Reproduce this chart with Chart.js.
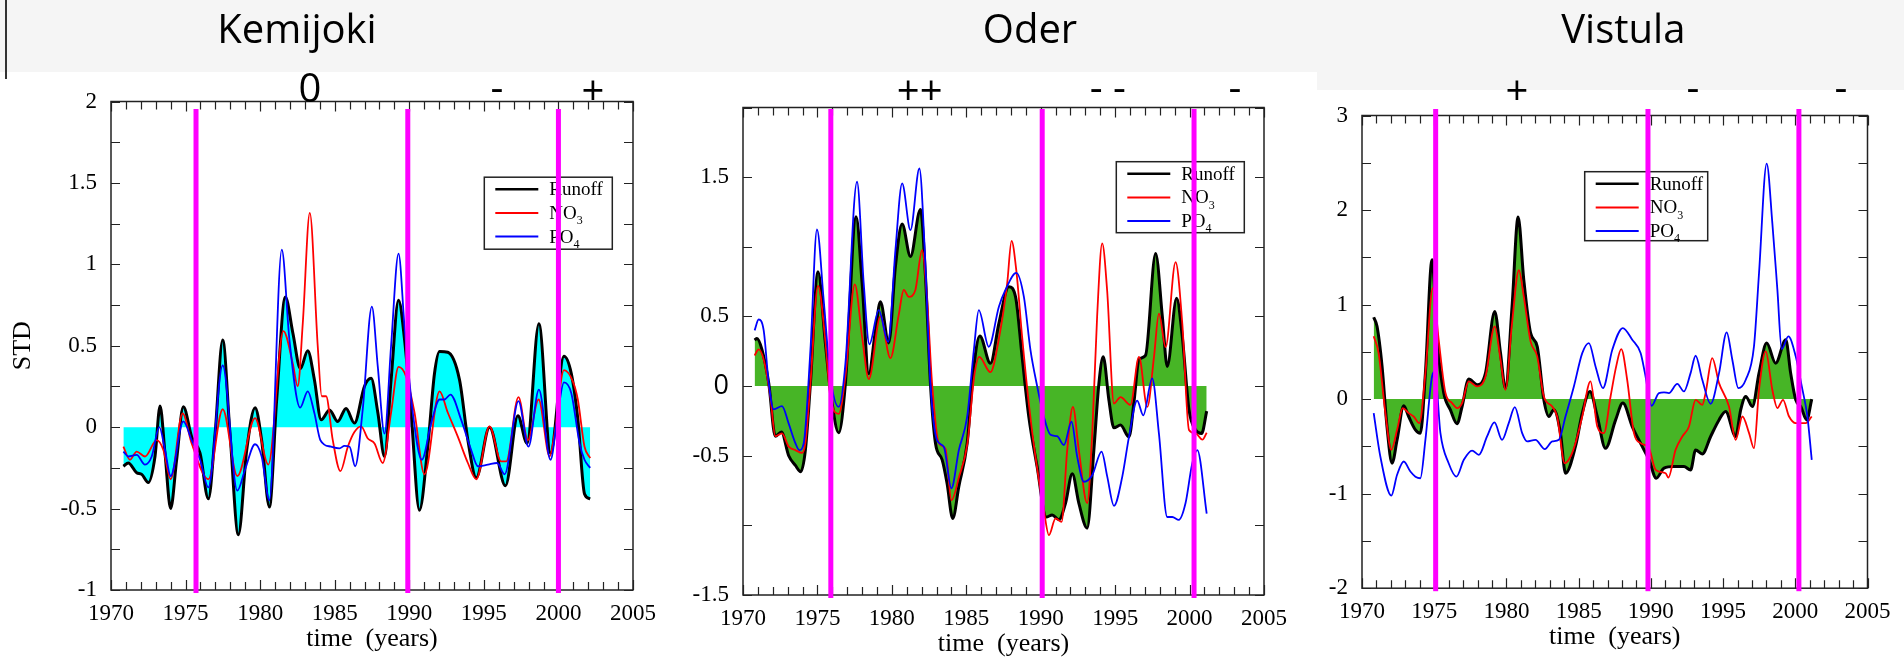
<!DOCTYPE html>
<html>
<head>
<meta charset="utf-8">
<script src="https://cdn.jsdelivr.net/npm/chart.js@4.4.1/dist/chart.umd.min.js"></script>
<style>
  html, body { margin: 0; padding: 0; background: #fff; width: 1904px; height: 658px; overflow: hidden; position: relative; }
  .band { position: absolute; background: #f5f5f5; }
  .box { position: absolute; top: 0; height: 680px; }
  #head { position: absolute; left: 0; top: 0; }
  #head text { font-family: 'Open Sans', 'Noto Sans', sans-serif; font-size: 40px; fill: #000; text-anchor: middle; }
</style>
</head>
<body>
<div class="band" style="left:0;top:0;width:1904px;height:72px"></div>
<div class="band" style="left:1317px;top:72px;width:587px;height:18px"></div>
<div style="position:absolute;left:5px;top:0;width:2px;height:79px;background:#333"></div>

<div class="box" style="left:0;width:680px"><canvas id="kem"></canvas></div>
<div class="box" style="left:680px;width:620px"><canvas id="oder"></canvas></div>
<div class="box" style="left:1300px;width:604px"><canvas id="vist"></canvas></div>

<svg id="head" width="1904" height="110">
  <text x="297" y="43.3">Kemijoki</text>
  <text x="310" y="101.5">0</text>
  <text x="497" y="100.5">-</text>
  <text x="593" y="104.5">+</text>
  <text x="1030" y="43.3">Oder</text>
  <text x="919.7" y="104.5">++</text>
  <text x="1107.7" y="100.5">- -</text>
  <text x="1235" y="100.5">-</text>
  <text x="1623.3" y="43.3">Vistula</text>
  <text x="1517" y="104.5">+</text>
  <text x="1693" y="100.5">-</text>
  <text x="1841" y="100.5">-</text>
</svg>

<script>
// tick labels
const xLabels = [1970, 1975, 1980, 1985, 1990, 1995, 2000, 2005];
const kemYLabels = [2, 1.5, 1, 0.5, 0, -0.5, -1];
const oderYLabels = [1.5, 0.5, 0, -0.5, -1.5];
const vistYLabels = [3, 2, 1, 0, -1, -2];

// magenta marker years
const kemEvents = [1975.7, 1989.9, 2000.0];
const oderEvents = [1975.9, 1990.1, 2000.3];
const vistEvents = [1975.1, 1989.8, 2000.25];

// Kemijoki  [year, std]
const kemRunoff = [[1970.83,-0.24],[1971.16,-0.22],[1971.72,-0.28],[1972.06,-0.29],[1972.5,-0.34],[1972.95,-0.18],[1973.29,0.13],[1973.62,-0.16],[1974.0,-0.5],[1974.4,-0.2],[1974.85,0.125],[1975.41,-0.06],[1975.97,-0.16],[1976.53,-0.44],[1976.98,-0.04],[1977.49,0.535],[1977.98,-0.04],[1978.54,-0.66],[1979.1,-0.14],[1979.66,0.12],[1980.1,-0.08],[1980.62,-0.49],[1981.11,0.17],[1981.69,0.8],[1982.19,0.58],[1982.7,0.36],[1983.19,0.47],[1983.64,0.29],[1984.09,0.045],[1984.65,0.105],[1985.2,0.035],[1985.76,0.115],[1986.32,0.025],[1986.99,0.25],[1987.44,0.3],[1987.89,0.09],[1988.34,-0.18],[1988.78,0.29],[1989.28,0.78],[1989.68,0.54],[1990.12,0.09],[1990.68,-0.51],[1991.24,-0.12],[1991.69,0.33],[1992.03,0.465],[1992.58,0.46],[1993.37,0.29],[1993.93,-0.08],[1994.49,-0.31],[1995.38,0.0],[1996.45,-0.36],[1997.28,0.07],[1997.9,-0.1],[1998.69,0.635],[1999.47,-0.16],[2000.37,0.435],[2000.86,0.33],[2001.3,0.05],[2001.75,-0.41],[2002.13,-0.44]];
const kemNO3 = [[1970.83,-0.12],[1971.27,-0.2],[1971.72,-0.15],[1972.28,-0.18],[1973.06,-0.08],[1973.51,-0.14],[1974.0,-0.32],[1974.8,0.085],[1975.41,-0.1],[1976.53,-0.32],[1977.49,0.11],[1978.47,-0.3],[1979.66,0.055],[1980.55,-0.23],[1981.56,0.59],[1982.19,0.39],[1982.52,0.25],[1982.86,0.64],[1983.33,1.316],[1983.86,0.5],[1984.13,0.19],[1984.42,0.19],[1984.87,-0.08],[1985.38,-0.27],[1985.88,-0.12],[1986.32,-0.03],[1986.77,0.005],[1987.22,-0.07],[1987.67,-0.1],[1988.22,-0.22],[1988.78,0.09],[1989.28,0.37],[1989.79,0.31],[1990.35,0.09],[1991.02,-0.29],[1992.03,0.22],[1992.58,0.09],[1993.26,-0.06],[1993.93,-0.22],[1994.49,-0.32],[1995.38,0.005],[1996.16,-0.21],[1996.5,-0.21],[1997.32,0.185],[1997.95,-0.08],[1998.67,0.17],[1999.41,-0.18],[1999.74,-0.04],[2000.37,0.35],[2000.97,0.28],[2001.3,0.17],[2001.75,-0.12],[2002.13,-0.19]];
const kemPO4 = [[1970.83,-0.15],[1971.16,-0.18],[1971.72,-0.17],[1972.28,-0.23],[1972.73,-0.18],[1973.24,0.0],[1973.62,-0.14],[1974.0,-0.3],[1974.85,0.035],[1975.41,-0.08],[1975.97,-0.2],[1976.53,-0.37],[1977.49,0.38],[1978.47,-0.39],[1978.99,-0.26],[1979.66,-0.105],[1980.1,-0.18],[1980.62,-0.45],[1981.45,1.09],[1981.96,0.54],[1982.68,0.12],[1983.19,0.22],[1983.64,0.085],[1984.04,-0.08],[1984.76,-0.12],[1985.32,-0.13],[1985.65,-0.115],[1986.0,-0.12],[1986.37,-0.24],[1986.88,0.11],[1987.49,0.74],[1987.89,0.37],[1988.34,-0.04],[1988.78,0.5],[1989.28,1.066],[1989.68,0.62],[1990.24,0.085],[1990.84,-0.2],[1991.47,0.025],[1992.03,0.17],[1992.36,0.17],[1992.76,0.2],[1993.48,0.045],[1994.15,-0.14],[1994.6,-0.24],[1995.27,-0.23],[1995.89,-0.22],[1996.39,-0.29],[1997.32,0.16],[1997.99,-0.12],[1998.69,0.23],[1999.47,-0.2],[1999.96,0.085],[2000.37,0.275],[2000.86,0.21],[2001.42,-0.1],[2001.75,-0.2],[2002.13,-0.25]];

// Oder
const oderRunoff = [[1970.78,0.33],[1970.94,0.342],[1971.28,0.26],[1971.73,0.02],[1972.17,-0.36],[1972.58,-0.33],[1973.07,-0.5],[1973.52,-0.57],[1973.88,-0.615],[1974.19,-0.46],[1974.53,0.02],[1975.04,0.82],[1975.53,0.31],[1975.87,-0.03],[1976.43,-0.335],[1976.88,0.02],[1977.6,1.215],[1978.0,0.74],[1978.45,0.09],[1978.9,0.4],[1979.23,0.605],[1979.79,0.31],[1980.24,0.86],[1980.69,1.163],[1981.25,0.93],[1981.92,1.268],[1982.26,0.785],[1982.59,0.02],[1982.93,-0.41],[1983.38,-0.53],[1983.71,-0.7],[1984.09,-0.95],[1984.5,-0.72],[1985.06,-0.41],[1985.51,0.14],[1985.91,0.36],[1986.62,0.163],[1987.19,0.45],[1987.86,0.713],[1988.31,0.64],[1988.75,0.21],[1989.2,-0.22],[1989.76,-0.58],[1990.37,-0.94],[1990.77,-0.925],[1991.22,-0.96],[1991.67,-0.84],[1992.12,-0.63],[1992.56,-0.84],[1993.12,-1.02],[1993.57,-0.46],[1993.91,0.02],[1994.2,0.21],[1994.58,-0.1],[1994.92,-0.3],[1995.36,-0.28],[1995.93,-0.365],[1996.26,-0.12],[1996.6,0.19],[1997.04,0.22],[1997.72,0.952],[1998.17,0.5],[1998.5,0.14],[1999.13,0.63],[1999.51,0.355],[1999.96,-0.17],[2000.41,-0.315],[2000.81,-0.34],[2001.15,-0.18]];
const oderNO3 = [[1970.78,0.22],[1971.05,0.263],[1971.39,0.19],[1971.84,-0.08],[1972.17,-0.36],[1972.62,-0.34],[1973.07,-0.435],[1973.52,-0.46],[1973.97,-0.48],[1974.19,-0.41],[1974.53,0.02],[1975.04,0.72],[1975.53,0.33],[1975.87,-0.08],[1976.43,-0.2],[1976.88,0.07],[1977.51,0.73],[1978.0,0.355],[1978.45,0.05],[1979.23,0.5],[1979.9,0.2],[1980.46,0.51],[1980.8,0.69],[1981.14,0.64],[1981.58,0.69],[1982.03,0.976],[1982.37,0.62],[1982.7,0.02],[1983.15,-0.41],[1983.6,-0.45],[1984.0,-0.82],[1984.52,-0.65],[1985.08,-0.41],[1985.53,0.07],[1985.87,0.21],[1986.62,0.1],[1987.19,0.34],[1987.75,0.74],[1988.04,1.043],[1988.36,0.83],[1988.75,0.355],[1989.2,-0.125],[1989.65,-0.51],[1990.21,-0.89],[1990.55,-1.07],[1991.0,-0.95],[1991.4,-0.975],[1991.78,-0.46],[1992.16,-0.15],[1992.56,-0.46],[1993.12,-0.84],[1993.46,-0.34],[1993.79,0.5],[1994.13,1.024],[1994.46,0.69],[1994.92,-0.125],[1995.36,-0.08],[1996.03,-0.135],[1996.6,0.21],[1997.16,-0.15],[1997.61,0.21],[1997.94,0.52],[1998.39,0.28],[1999.06,0.89],[1999.51,0.45],[1999.96,-0.315],[2000.41,-0.34],[2000.86,-0.385],[2001.15,-0.335]];
const oderPO4 = [[1970.78,0.4],[1971.05,0.478],[1971.39,0.4],[1971.73,0.02],[1972.06,-0.167],[1972.62,-0.144],[1973.07,-0.27],[1973.52,-0.41],[1973.79,-0.46],[1974.08,-0.41],[1974.53,0.26],[1974.97,1.124],[1975.42,0.617],[1975.87,0.067],[1976.43,-0.15],[1976.88,0.163],[1977.66,1.467],[1978.11,0.737],[1978.49,0.3],[1979.12,0.545],[1979.75,0.318],[1980.24,0.976],[1980.69,1.455],[1981.25,1.12],[1981.85,1.562],[1982.21,0.976],[1982.59,0.02],[1983.04,-0.39],[1983.49,-0.435],[1984.0,-0.734],[1984.5,-0.46],[1985.06,-0.22],[1985.51,0.26],[1985.84,0.545],[1986.51,0.282],[1987.19,0.57],[1987.63,0.69],[1988.36,0.813],[1988.87,0.64],[1989.31,0.26],[1989.76,0.0],[1990.21,-0.22],[1990.66,-0.35],[1991.1,-0.36],[1991.56,-0.423],[1992.07,-0.256],[1992.45,-0.507],[1992.9,-0.687],[1993.46,-0.64],[1994.09,-0.47],[1994.47,-0.65],[1994.92,-0.86],[1995.48,-0.65],[1995.93,-0.365],[1996.48,-0.105],[1996.89,-0.21],[1997.49,0.055],[1997.94,-0.34],[1998.5,-0.94],[1998.84,-0.94],[1999.28,-0.96],[1999.73,-0.84],[2000.18,-0.555],[2000.52,-0.46],[2001.15,-0.915]];

// Vistula
const vistRunoff = [[1970.81,0.865],[1971.04,0.77],[1971.39,0.346],[1971.73,-0.29],[1972.08,-0.678],[1972.43,-0.43],[1972.89,-0.07],[1973.23,-0.184],[1973.7,-0.325],[1974.04,-0.36],[1974.39,0.275],[1974.85,1.475],[1975.2,0.628],[1975.66,0.064],[1976.12,-0.113],[1976.58,-0.26],[1976.93,-0.078],[1977.39,0.212],[1977.97,0.152],[1978.55,0.275],[1979.19,0.928],[1979.59,0.487],[1979.93,0.116],[1980.39,0.98],[1980.81,1.927],[1981.2,1.264],[1981.67,0.7],[1982.13,0.558],[1982.59,-0.007],[1982.94,-0.184],[1983.28,-0.113],[1983.74,-0.36],[1984.09,-0.784],[1984.78,-0.5],[1985.25,-0.148],[1985.78,0.081],[1986.29,-0.184],[1986.86,-0.52],[1987.56,-0.22],[1988.06,-0.042],[1988.71,-0.29],[1989.4,-0.5],[1989.87,-0.64],[1990.37,-0.837],[1990.91,-0.73],[1991.6,-0.713],[1992.29,-0.713],[1992.75,-0.75],[1993.1,-0.537],[1993.56,-0.58],[1994.14,-0.395],[1994.72,-0.22],[1995.18,-0.131],[1995.87,-0.395],[1996.22,-0.113],[1996.57,0.028],[1997.03,-0.078],[1997.49,0.275],[1998.02,0.593],[1998.64,0.38],[1999.34,0.628],[1999.68,0.275],[2000.03,-0.007],[2000.38,-0.078],[2000.79,-0.22],[2001.14,0.0]];
const vistNO3 = [[1970.81,0.664],[1971.15,0.487],[1971.62,-0.148],[1972.03,-0.537],[1972.43,-0.325],[1972.82,-0.095],[1973.23,-0.148],[1973.58,-0.184],[1973.97,-0.254],[1974.39,0.275],[1974.9,1.175],[1975.31,0.628],[1975.78,0.064],[1976.24,-0.042],[1976.58,-0.095],[1976.93,-0.042],[1977.39,0.187],[1977.97,0.134],[1978.55,0.24],[1979.19,0.77],[1979.59,0.417],[1979.93,0.099],[1980.39,0.805],[1980.86,1.363],[1981.2,1.087],[1981.67,0.611],[1982.13,0.452],[1982.59,0.028],[1983.17,-0.078],[1983.51,-0.184],[1984.04,-0.678],[1984.44,-0.607],[1984.78,-0.466],[1985.25,-0.184],[1985.82,0.187],[1986.29,-0.289],[1986.75,-0.36],[1987.21,0.028],[1987.6,0.346],[1987.95,0.529],[1988.36,0.205],[1988.83,-0.36],[1989.29,-0.466],[1989.87,-0.519],[1990.33,-0.748],[1991.02,-0.784],[1991.21,-0.83],[1991.71,-0.537],[1992.18,-0.395],[1992.64,-0.289],[1993.1,-0.007],[1993.56,-0.06],[1993.79,0.064],[1994.25,0.434],[1994.72,0.169],[1995.41,-0.078],[1995.87,-0.431],[1996.34,-0.184],[1996.8,-0.36],[1997.14,-0.519],[1997.49,0.099],[1997.95,0.505],[1998.41,0.099],[1998.76,-0.095],[1999.15,-0.007],[1999.57,-0.184],[2000.03,-0.254],[2000.72,-0.254],[2001.14,-0.184]];
const vistPO4 = [[1970.81,-0.148],[1971.27,-0.607],[1972.03,-1.02],[1972.43,-0.8],[1972.89,-0.66],[1973.35,-0.766],[1973.7,-0.82],[1974.04,-0.837],[1974.39,-0.431],[1974.85,0.24],[1975.05,0.29],[1975.43,-0.36],[1976.0,-0.678],[1976.54,-0.819],[1977.05,-0.642],[1977.62,-0.544],[1978.09,-0.59],[1978.66,-0.395],[1979.17,-0.247],[1979.7,-0.431],[1980.16,-0.254],[1980.58,-0.085],[1981.09,-0.36],[1981.43,-0.448],[1982.01,-0.431],[1982.66,-0.529],[1983.17,-0.448],[1983.63,-0.431],[1984.09,-0.184],[1984.67,0.134],[1985.25,0.487],[1985.71,0.593],[1986.17,0.346],[1986.68,0.116],[1987.33,0.522],[1988.06,0.752],[1988.71,0.628],[1989.29,0.487],[1989.59,0.275],[1990.05,-0.071],[1990.56,0.064],[1990.91,0.071],[1991.25,0.064],[1991.83,0.162],[1992.29,0.081],[1992.75,0.275],[1993.1,0.459],[1993.56,0.205],[1994.14,-0.049],[1994.72,0.275],[1995.25,0.706],[1995.64,0.417],[1996.06,0.116],[1996.57,0.205],[1997.14,0.558],[1997.49,1.334],[1998.02,2.492],[1998.41,1.864],[1998.76,1.158],[1999.06,0.529],[1999.52,0.664],[2000.03,0.452],[2000.45,0.134],[2000.84,-0.184],[2001.14,-0.642]];

const SERIF = "'Liberation Serif', 'Times New Roman', serif";
Chart.defaults.font.family = SERIF;
Chart.defaults.color = '#000';

const toXY = arr => arr.map(p => ({ x: p[0], y: p[1] }));
const hasLabel = (list, v) => list.some(l => Math.abs(l - v) < 1e-6);

// frame, inward ticks, magenta marker lines
const framePlugin = {
  id: 'frameTicks',
  afterDraw(chart, args, o) {
    const { ctx, chartArea: a, scales: { x, y } } = chart;
    ctx.save();
    ctx.strokeStyle = '#222';
    ctx.lineWidth = 1.5;
    ctx.strokeRect(a.left, a.top, a.right - a.left, a.bottom - a.top);
    ctx.lineWidth = 1.2;
    ctx.beginPath();
    x.ticks.forEach(t => {
      const px = Math.round(x.getPixelForValue(t.value)) + 0.5;
      const len = t.value % 5 === 0 ? 10 : 8;
      ctx.moveTo(px, a.top); ctx.lineTo(px, a.top + len);
      ctx.moveTo(px, a.bottom); ctx.lineTo(px, a.bottom - len);
    });
    y.ticks.forEach(t => {
      const py = Math.round(y.getPixelForValue(t.value)) + 0.5;
      ctx.moveTo(a.left, py); ctx.lineTo(a.left + 9, py);
      ctx.moveTo(a.right, py); ctx.lineTo(a.right - 9, py);
    });
    ctx.stroke();
    ctx.fillStyle = '#ff00ff';
    (o.events || []).forEach(yr => {
      const px = x.getPixelForValue(yr);
      ctx.fillRect(px - 2.5, o.top, 5, a.bottom + 3 - o.top);
    });
    ctx.restore();
  }
};

// legend box inside the plot
const boxLegend = {
  id: 'boxLegend',
  afterDatasetsDraw(chart, args, o) {
    const { ctx, chartArea: a } = chart;
    const bx = a.left + o.dx, by = a.top + o.dy;
    ctx.save();
    ctx.fillStyle = '#fff';
    ctx.fillRect(bx, by, o.w, o.h);
    ctx.strokeStyle = '#222';
    ctx.lineWidth = 1.5;
    ctx.strokeRect(bx, by, o.w, o.h);
    chart.data.datasets.forEach((ds, i) => {
      const yy = by + 12 + i * 23.7;
      ctx.strokeStyle = ds.borderColor;
      ctx.lineWidth = i === 0 ? 2.6 : 2;
      ctx.beginPath(); ctx.moveTo(bx + 11, yy); ctx.lineTo(bx + 54, yy); ctx.stroke();
      const m = ds.label.match(/^(.*?)(\d)$/);
      const main = m ? m[1] : ds.label;
      ctx.fillStyle = '#000';
      ctx.textBaseline = 'middle';
      ctx.font = '19px ' + SERIF;
      ctx.fillText(main, bx + 65, yy + 1);
      if (m) {
        const w = ctx.measureText(main).width;
        ctx.font = '12px ' + SERIF;
        ctx.fillText(m[2], bx + 65 + w, yy + 8);
      }
    });
    ctx.restore();
  }
};

function makePanel(id, p) {
  new Chart(document.getElementById(id), {
    type: 'line',
    data: {
      datasets: [
        { label: 'Runoff', data: toXY(p.runoff), borderColor: '#000', borderWidth: 3, fill: 'origin', backgroundColor: p.fillColor, order: 3 },
        { label: 'NO3', data: toXY(p.no3), borderColor: '#ff0000', borderWidth: 1.8, fill: false, order: 2 },
        { label: 'PO4', data: toXY(p.po4), borderColor: '#0000ff', borderWidth: 1.8, fill: false, order: 1 }
      ]
    },
    options: {
      responsive: true,
      maintainAspectRatio: false,
      animation: false,
      devicePixelRatio: 1,
      elements: { point: { radius: 0 }, line: { cubicInterpolationMode: 'monotone' } },
      layout: { padding: { left: 0, top: p.top, right: p.right, bottom: 0 } },
      scales: {
        x: {
          type: 'linear', min: 1970, max: 2005,
          grid: { display: false, drawTicks: false },
          border: { display: false },
          ticks: { stepSize: 1, maxTicksLimit: 100, autoSkip: false, maxRotation: 0, padding: 10, font: { size: 23 },
            callback: v => xLabels.includes(v) ? String(v) : '' },
          title: { display: true, text: 'time  (years)', font: { size: 26 }, padding: { top: 0, bottom: p.titlePad } },
          afterFit: s => { s.height = p.xH; }
        },
        y: {
          min: p.ymin, max: p.ymax,
          grid: { display: false, drawTicks: false },
          border: { display: false },
          ticks: { stepSize: p.ystep, maxTicksLimit: 100, autoSkip: false, padding: 14,
            font: c => (p.sansZero && c.tick && c.tick.value === 0) ? { family: "'Open Sans', sans-serif", size: 27 } : { size: 23 },
            callback: v => hasLabel(p.yLabels, v) ? String(Math.round(v * 100) / 100) : '' },
          title: { display: !!p.yTitle, text: p.yTitle || '', font: { size: 26 }, padding: { top: 8, bottom: 0 } },
          afterFit: s => { s.width = p.yW; }
        }
      },
      plugins: {
        legend: { display: false },
        tooltip: { enabled: false },
        filler: { drawTime: 'beforeDatasetsDraw' },
        frameTicks: { events: p.events, top: 109 },
        boxLegend: p.legend
      }
    },
    plugins: [boxLegend, framePlugin]
  });
}

makePanel('kem', {
  runoff: kemRunoff, no3: kemNO3, po4: kemPO4, fillColor: '#00ffff',
  ymin: -1, ymax: 2, ystep: 0.25, yLabels: kemYLabels, yTitle: 'STD',
  top: 101.5, right: 47, yW: 111, xH: 90, titlePad: 25.4,
  events: kemEvents, legend: { dx: 373.3, dy: 75.7, w: 128, h: 72 }
});
makePanel('oder', {
  runoff: oderRunoff, no3: oderNO3, po4: oderPO4, fillColor: '#47b526',
  ymin: -1.5, ymax: 2, ystep: 0.5, yLabels: oderYLabels, sansZero: true,
  top: 107.5, right: 36, yW: 63, xH: 85, titlePad: 20.4,
  events: oderEvents, legend: { dx: 373.3, dy: 54.2, w: 128, h: 71 }
});
makePanel('vist', {
  runoff: vistRunoff, no3: vistNO3, po4: vistPO4, fillColor: '#47b526',
  ymin: -2, ymax: 3, ystep: 0.5, yLabels: vistYLabels,
  top: 115.5, right: 36.5, yW: 62, xH: 91.8, titlePad: 27.2,
  events: vistEvents, legend: { dx: 222.7, dy: 56.2, w: 123, h: 69 }
});
</script>
</body>
</html>
